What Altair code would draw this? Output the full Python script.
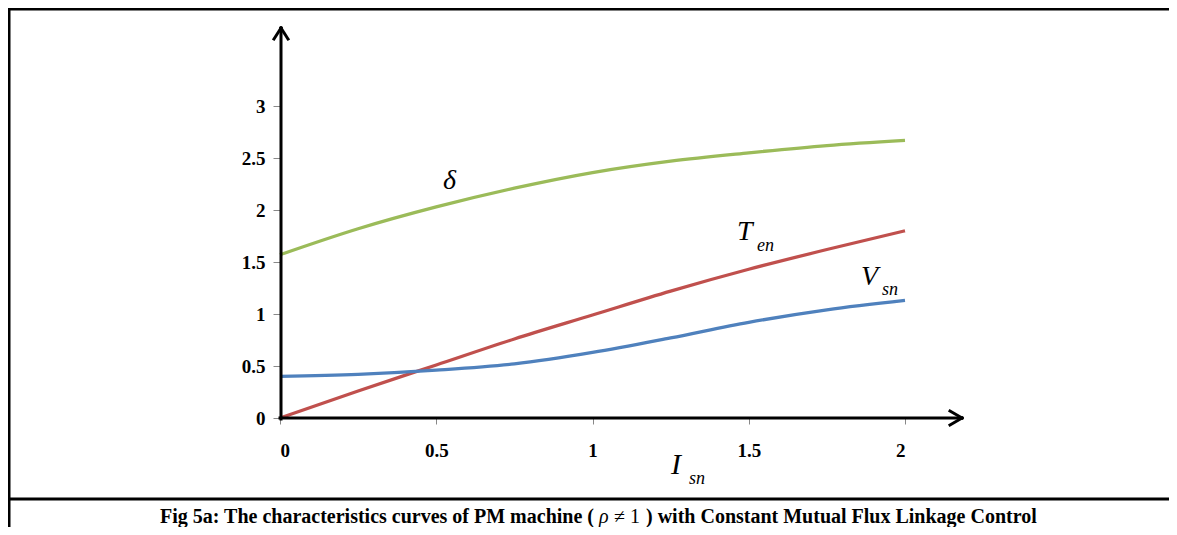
import altair as alt
import pandas as pd

# ---- data ----
I_sn = [0, 0.25, 0.5, 0.75, 1.0, 1.25, 1.5, 1.75, 2.0]
delta = [1.57, 1.82, 2.03, 2.21, 2.36, 2.47, 2.55, 2.62, 2.67]
T_en = [0.0, 0.26, 0.51, 0.76, 0.99, 1.22, 1.43, 1.62, 1.80]
V_sn = [0.40, 0.42, 0.46, 0.52, 0.63, 0.77, 0.92, 1.04, 1.13]

series_names = ["delta", "T_en", "V_sn"]
series_colors = ["#9BBB59", "#C0504D", "#4F81BD"]
x_ticks = [0, 0.5, 1, 1.5, 2]
y_ticks = [0, 0.5, 1, 1.5, 2, 2.5, 3]
caption_left = "Fig 5a: The characteristics curves of PM machine ("
caption_rho = "\u03c1"
caption_ne = "\u2260 1"
caption_right = ") with Constant Mutual Flux Linkage Control"

rows = []
for name, vals in zip(series_names, [delta, T_en, V_sn]):
    for xv, yv in zip(I_sn, vals):
        rows.append({"I": xv, "value": yv, "series": name})
df = pd.DataFrame(rows)

W, H = 625, 312
FONT = "Liberation Serif"

base = alt.Chart(df)
lines = base.mark_line(strokeWidth=3.3, interpolate="monotone").encode(
    x=alt.X("I:Q", scale=alt.Scale(domain=[0, 2], nice=False, zero=False),
            axis=alt.Axis(values=x_ticks, labelExpr="datum.value", domain=False, grid=False,
                          tickColor="#888888", tickSize=6, labelPadding=17,
                          labelFont=FONT, labelFontWeight="bold", labelFontSize=19,
                          labelColor="black", title=None)),
    y=alt.Y("value:Q", scale=alt.Scale(domain=[0, 3], nice=False),
            axis=alt.Axis(values=y_ticks, labelExpr="datum.value", domain=False, grid=False,
                          tickColor="#888888", tickSize=7, labelPadding=8,
                          labelFont=FONT, labelFontWeight="bold", labelFontSize=19,
                          labelColor="black", title=None)),
    color=alt.Color("series:N", scale=alt.Scale(domain=series_names, range=series_colors),
                    legend=None),
)

dummy = alt.Data(values=[{}])

def seg(x1, y1, x2, y2, w=3, c="black"):
    return alt.Chart(dummy).mark_rule(strokeWidth=w, color=c, strokeCap="square").encode(
        x=alt.value(x1), y=alt.value(y1), x2=alt.value(x2), y2=alt.value(y2))

def txt(x, y, s, size, style="italic", weight="normal", align="left", baseline="alphabetic"):
    return alt.Chart(dummy).mark_text(text=s, font=FONT, fontSize=size, fontStyle=style,
                                      fontWeight=weight, align=align, baseline=baseline,
                                      color="black").encode(x=alt.value(x), y=alt.value(y))

PX, PY = 280, 106  # page position of plot origin (top-left)

def P(x, y):
    return x - PX, y - PY

decor = []
# axes with arrows
decor.append(seg(*P(281, 28), *P(281, 419)))
decor.append(seg(*P(281, 28), *P(274, 39)))
decor.append(seg(*P(281, 28), *P(288, 39)))
decor.append(seg(*P(280, 418), *P(962, 418)))
decor.append(seg(*P(962, 418), *P(950, 411)))
decor.append(seg(*P(962, 418), *P(950, 425)))
# frame
decor.append(seg(*P(9, 9), *P(1169, 9), w=3))
decor.append(seg(*P(9, 9), *P(9, 527), w=3))
decor.append(seg(*P(9, 499), *P(1169, 499), w=3))

# curve labels
decor.append(txt(*P(443, 189), "\u03b4", 28))
decor.append(txt(*P(737, 240), "T", 28))
decor.append(txt(*P(757, 251), "en", 18))
decor.append(txt(*P(861, 285), "V", 28))
decor.append(txt(*P(882, 295), "sn", 18))
decor.append(txt(*P(671, 474), "I", 30))
decor.append(txt(*P(689, 484), "sn", 18))

# caption
decor.append(txt(*P(594, 523), caption_left, 20, style="normal", weight="bold", align="right"))
decor.append(txt(*P(599, 523), caption_rho, 20, style="italic", weight="normal", align="left"))
decor.append(txt(*P(614, 523), caption_ne, 20, style="normal", weight="normal", align="left"))
decor.append(txt(*P(646, 523), caption_right, 20, style="normal", weight="bold", align="left"))

chart = alt.layer(lines, *decor).properties(
    width=W, height=H,
    autosize=alt.AutoSizeParams(type="none"),
    padding={"left": PX - 8, "top": PY - 8, "right": 1169 - (PX + W), "bottom": 527 - (PY + H)},
    background="white",
).configure_view(stroke=None)

chart.save("out.html", embed_options={"renderer": "svg", "actions": False})
